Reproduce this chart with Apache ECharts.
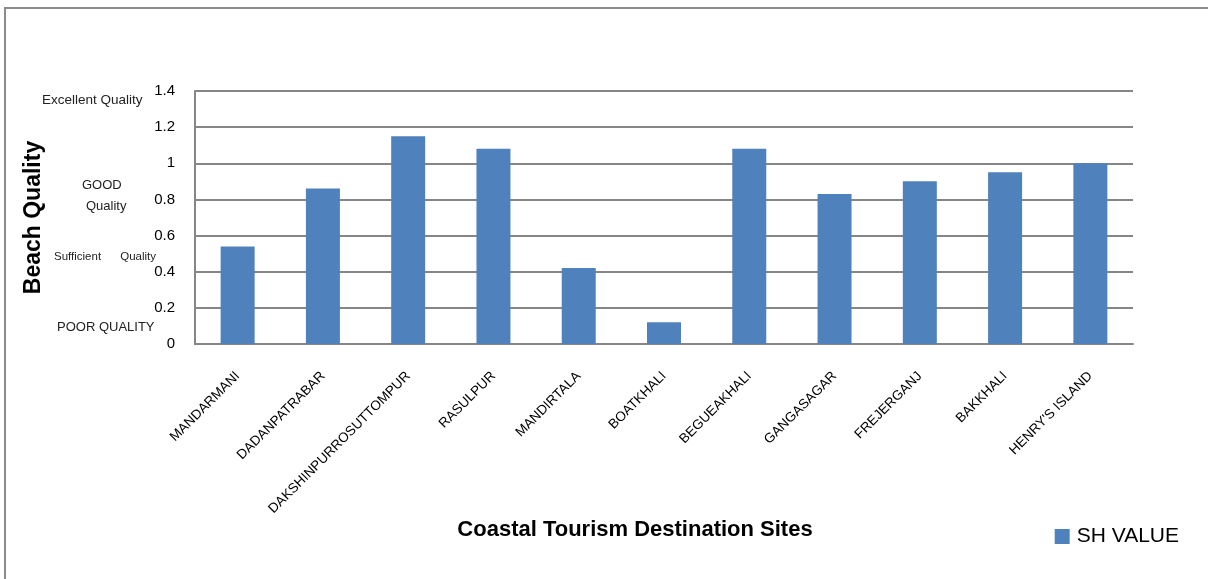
<!DOCTYPE html>
<html>
<head>
<meta charset="utf-8">
<script src="https://cdn.jsdelivr.net/npm/echarts@6/dist/echarts.min.js"></script>
<style>
  html, body { margin: 0; padding: 0; background: #fff; }
  #chart { width: 1208px; height: 579px; }
</style>
</head>
<body>
<div id="chart"></div>
<script>
// sites along the coast
const sites = ['MANDARMANI', 'DADANPATRABAR', 'DAKSHINPURROSUTTOMPUR', 'RASULPUR', 'MANDIRTALA',
    'BOATKHALI', 'BEGUEAKHALI', 'GANGASAGAR', 'FREJERGANJ', 'BAKKHALI', "HENRY'S ISLAND"];
const shValues = [0.54, 0.86, 1.15, 1.08, 0.42, 0.12, 1.08, 0.83, 0.90, 0.95, 1.00];
const yTicks = [0, 0.2, 0.4, 0.6, 0.8, 1, 1.2, 1.4];

const font = 'Liberation Sans';
const chart = echarts.init(document.getElementById('chart'));

const option = {
    animation: false,
    textStyle: { fontFamily: font },
    grid: { left: 195, right: 75, top: 91, bottom: 235 },
    legend: {
        data: ['SH VALUE'],
        right: 24, top: 521,
        itemWidth: 15, itemHeight: 15,
        itemGap: 6,
        icon: 'rect',
        textStyle: { fontSize: 21, color: '#000', fontFamily: font, padding: [0, 0, 0, 2] }
    },
    xAxis: {
        type: 'category',
        data: sites,
        name: 'Coastal Tourism Destination Sites',
        nameLocation: 'middle',
        nameGap: 170,
        nameTextStyle: { fontSize: 22, fontWeight: 'bold', color: '#000', padding: [0, 58, 0, 0] },
        axisLine: { lineStyle: { color: '#868686', width: 2 } },
        axisTick: { show: false },
        axisLabel: { rotate: 45, fontSize: 13.5, color: '#000', margin: 30, interval: 0 }
    },
    yAxis: {
        type: 'value',
        min: 0, max: 1.4, interval: 0.2,
        name: 'Beach Quality',
        nameLocation: 'middle',
        nameGap: 150,
        nameTextStyle: { fontSize: 23, fontWeight: 'bold', color: '#000' },
        axisLine: { show: true, lineStyle: { color: '#868686', width: 2 } },
        axisTick: { show: false },
        splitLine: { lineStyle: { color: '#868686', width: 2 } },
        axisLabel: {
            fontSize: 15, color: '#000', margin: 20,
            formatter: v => {
                const t = yTicks.find(x => Math.abs(x - v) < 1e-6);
                return t === undefined ? '' : String(t);
            }
        }
    },
    series: [{
        name: 'SH VALUE',
        type: 'bar',
        data: shValues,
        barWidth: 34,
        itemStyle: { color: '#4F81BD' }
    }],
    graphic: [
        {
            type: 'rect', silent: true, z: -1,
            shape: { x: 5, y: 8, width: 1400, height: 800 },
            style: { fill: 'none', stroke: '#8c8c8c', lineWidth: 2 }
        },
        { type: 'text', left: 42, top: 93, style: { text: 'Excellent Quality', fontSize: 13.5, fill: '#222', fontFamily: font } },
        { type: 'text', left: 82, top: 179, style: { text: 'GOOD', fontSize: 13, fill: '#222', fontFamily: font } },
        { type: 'text', left: 86, top: 200, style: { text: 'Quality', fontSize: 13, fill: '#222', fontFamily: font } },
        { type: 'text', left: 54, top: 251, style: { text: 'Sufficient      Quality', fontSize: 11.5, fill: '#222', fontFamily: font } },
        { type: 'text', left: 57, top: 321, style: { text: 'POOR QUALITY', fontSize: 13, fill: '#222', fontFamily: font } }
    ]
};

chart.setOption(option);
window.addEventListener('resize', () => chart.resize());
</script>
</body>
</html>
